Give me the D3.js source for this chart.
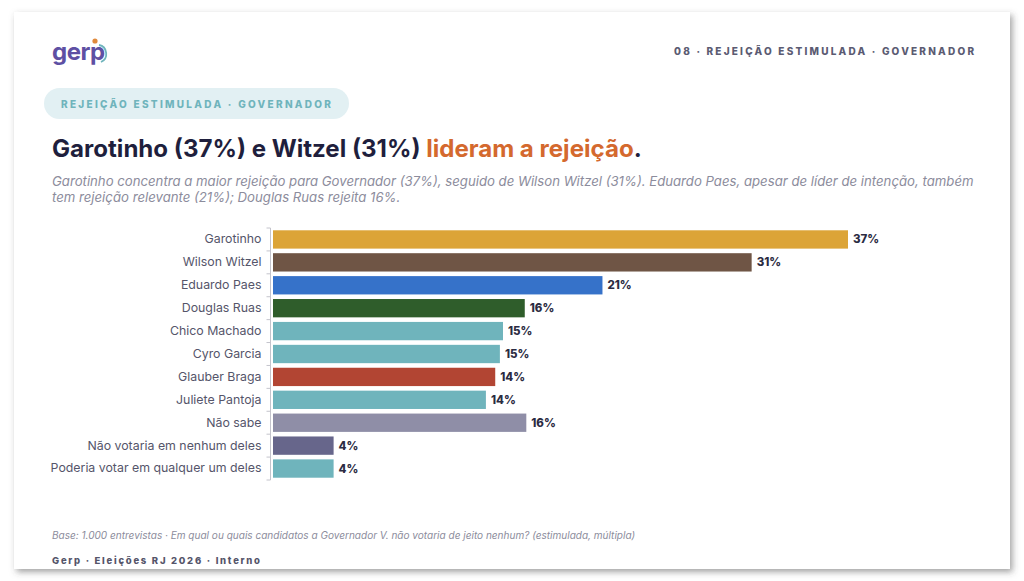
<!DOCTYPE html>
<html>
<head>
<meta charset="utf-8">
<script src="https://cdn.jsdelivr.net/npm/d3@7"></script>
<style>
  html, body { margin: 0; padding: 0; background: #ffffff; }
  svg { display: block; font-family: "Inter", "Noto Sans", sans-serif; }
</style>
</head>
<body>
<div id="chart"></div>
<script>
// Rejeição estimulada - Governador (Gerp, RJ 2026)
const categories = [
  "Garotinho", "Wilson Witzel", "Eduardo Paes", "Douglas Ruas", "Chico Machado",
  "Cyro Garcia", "Glauber Braga", "Juliete Pantoja", "Não sabe",
  "Não votaria em nenhum deles", "Poderia votar em qualquer um deles"
];
const values = [37.0, 30.8, 21.2, 16.2, 14.8, 14.6, 14.3, 13.7, 16.3, 3.9, 3.9];
const barColors = [
  "#dca437", "#6f5545", "#3672c9", "#2f5d2b", "#6fb4bc",
  "#6fb4bc", "#b24533", "#6fb4bc", "#8f8ea7", "#67668b", "#6fb4bc"
];

const W = 1024, H = 581;
const navy = "#1f1f3d", orange = "#d4692e", teal = "#6fb4bc";

const svg = d3.select("#chart").append("svg")
  .attr("width", W).attr("height", H);

// shadow for the slide card
const defs = svg.append("defs");
defs.append("filter").attr("id", "shadow")
  .attr("x", "-5%").attr("y", "-5%").attr("width", "110%").attr("height", "115%")
  .append("feDropShadow")
  .attr("dx", 2.5).attr("dy", 3).attr("stdDeviation", 3)
  .attr("flood-color", "#444").attr("flood-opacity", 0.5);

svg.append("rect")
  .attr("x", 14).attr("y", 12).attr("width", 996).attr("height", 557)
  .attr("fill", "#fff").attr("filter", "url(#shadow)");

// fit a text to a given width by scaling its font size
function fit(sel, width) {
  const w = sel.node().getComputedTextLength();
  const fs = parseFloat(sel.attr("font-size"));
  sel.attr("font-size", (fs * width / w).toFixed(2));
  return sel;
}

// logo
const logo = svg.append("g").attr("transform", "translate(52,60)");
logo.append("text")
  .attr("font-size", 24).attr("font-weight", 700).attr("fill", "#5e50a3")
  .attr("letter-spacing", -0.5)
  .text("gerp");
logo.append("circle").attr("cx", 43).attr("cy", -19).attr("r", 2.6).attr("fill", "#e08a3c");
logo.append("path")
  .attr("d", "M47,-15 A9,9 0 0 1 49,2")
  .attr("fill", "none").attr("stroke", teal).attr("stroke-width", 1.8);

// header right
svg.append("text")
  .attr("x", 974).attr("y", 55).attr("text-anchor", "end")
  .attr("font-size", 10).attr("font-weight", 800).attr("fill", "#5b5b72")
  .attr("textLength", 300).attr("lengthAdjust", "spacing")
  .text("08 · REJEIÇÃO ESTIMULADA · GOVERNADOR");

// pill
svg.append("rect")
  .attr("x", 44).attr("y", 88).attr("width", 305).attr("height", 31).attr("rx", 15.5)
  .attr("fill", "#e2f0f3");
svg.append("text")
  .attr("x", 61).attr("y", 107.5)
  .attr("font-size", 10).attr("font-weight", 800).attr("fill", teal)
  .attr("textLength", 270).attr("lengthAdjust", "spacing")
  .text("REJEIÇÃO ESTIMULADA · GOVERNADOR");

// title
const title = svg.append("text")
  .attr("x", 52).attr("y", 157)
  .attr("font-size", 22).attr("font-weight", 700).attr("fill", navy);
title.append("tspan").text("Garotinho (37%) e Witzel (31%) ");
title.append("tspan").attr("fill", orange).text("lideram a rejeição");
title.append("tspan").text(".");
fit(title, 590);

// subtitle
const sub1 = svg.append("text")
  .attr("x", 52).attr("y", 186)
  .attr("font-size", 12).attr("font-style", "italic").attr("fill", "#8c8c9c")
  .text("Garotinho concentra a maior rejeição para Governador (37%), seguido de Wilson Witzel (31%). Eduardo Paes, apesar de líder de intenção, também");
fit(sub1, 922);
svg.append("text")
  .attr("x", 52).attr("y", 202)
  .attr("font-size", sub1.attr("font-size")).attr("font-style", "italic").attr("fill", "#8c8c9c")
  .text("tem rejeição relevante (21%); Douglas Ruas rejeita 16%.");

// bars
const x = d3.scaleLinear().domain([0, 37]).range([273, 848]);
const y = d3.scaleBand().domain(categories).range([228, 480]).paddingInner(0.2).paddingOuter(0.1);

const axis = svg.append("g")
  .attr("transform", "translate(270.5,0)")
  .call(d3.axisLeft(y).tickSize(0).tickPadding(9));
axis.select(".domain").attr("stroke", "#c4c4cc").attr("d", "M0,228V480");
axis.selectAll("text")
  .attr("font-family", "Inter, 'Noto Sans', sans-serif")
  .attr("font-size", 11).attr("fill", "#55556a");
// scale label font so the longest label spans as in the slide
const longest = axis.selectAll("text").filter(d => d === categories[categories.length - 1]);
const lw = longest.node().getComputedTextLength();
axis.selectAll("text").attr("font-size", (11 * 211 / lw).toFixed(2));

// small ticks at band boundaries
const bounds = categories.map(c => y(c) - y.step() * y.paddingInner() / 2)
  .concat([y(categories[categories.length - 1]) + y.bandwidth() + y.step() * y.paddingInner() / 2]);
axis.selectAll(".bound").data(bounds).join("line")
  .attr("class", "bound")
  .attr("x1", -4).attr("x2", 0)
  .attr("y1", d => d).attr("y2", d => d)
  .attr("stroke", "#c4c4cc");

svg.append("g").selectAll("rect").data(values).join("rect")
  .attr("x", x(0))
  .attr("y", (d, i) => y(categories[i]))
  .attr("width", d => x(d) - x(0))
  .attr("height", y.bandwidth())
  .attr("fill", (d, i) => barColors[i]);

svg.append("g").selectAll("text").data(values).join("text")
  .attr("x", d => x(d) + 5)
  .attr("y", (d, i) => y(categories[i]) + y.bandwidth() / 2)
  .attr("dy", "0.35em")
  .attr("font-size", 11.5).attr("font-weight", 800).attr("fill", "#2b2b42")
  .text(d => d3.format(".0f")(d) + "%");

// footnote
const foot = svg.append("text")
  .attr("x", 52).attr("y", 539)
  .attr("font-size", 9).attr("font-style", "italic").attr("fill", "#8c8c9c")
  .text("Base: 1.000 entrevistas · Em qual ou quais candidatos a Governador V. não votaria de jeito nenhum? (estimulada, múltipla)");
fit(foot, 584);

svg.append("text")
  .attr("x", 52).attr("y", 564)
  .attr("font-size", 9.5).attr("font-weight", 800).attr("fill", "#55556a")
  .attr("textLength", 208).attr("lengthAdjust", "spacing")
  .text("Gerp · Eleições RJ 2026 · Interno");
</script>
</body>
</html>
